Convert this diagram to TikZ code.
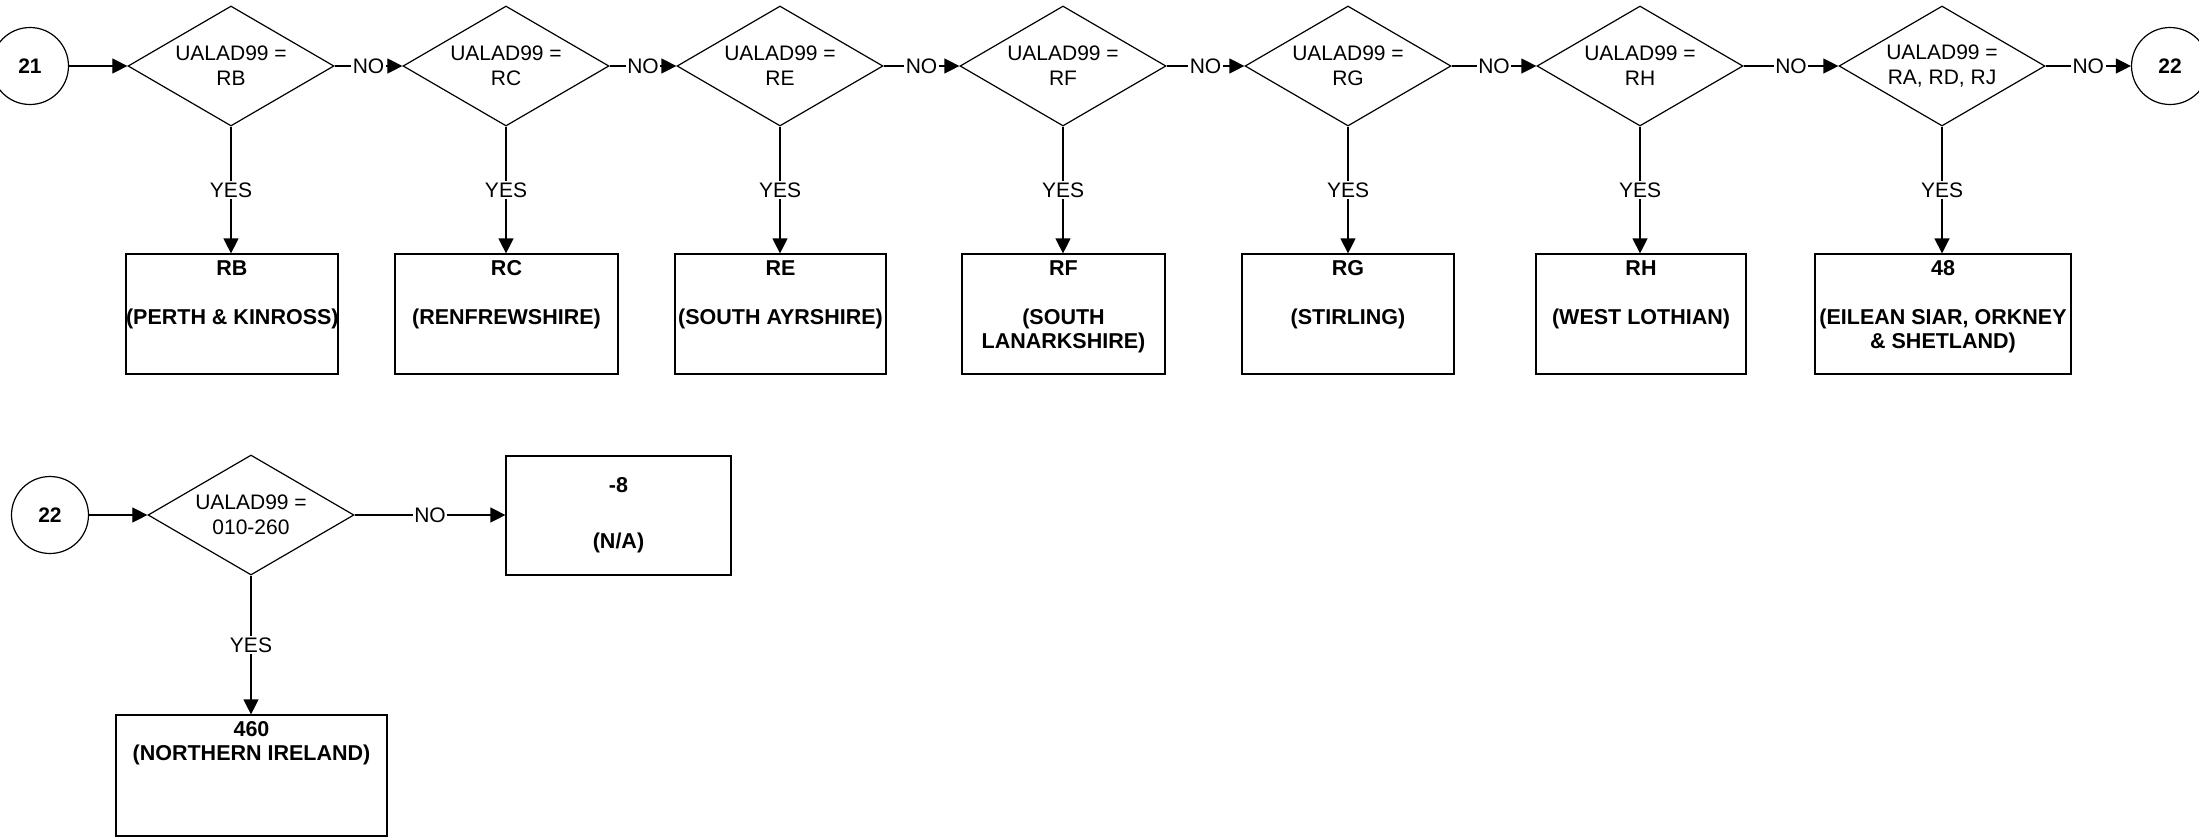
\documentclass[tikz,border=0pt]{standalone}
\usepackage{fontspec}
\setmainfont{Liberation Sans}
\usetikzlibrary{shapes.geometric,arrows.meta}
\newcommand\obox[3]{\parbox[c][#2][t]{#1}{\centering\rule{0pt}{21pt}#3}}
\begin{document}
\begin{tikzpicture}[x=1pt,y=-1pt,line width=1.2pt,
  dec/.style={draw, diamond, aspect=1.72, minimum width=206pt, minimum height=120pt, inner sep=0pt, align=center, font=\fontsize{21}{25}\selectfont},
  conn/.style={draw, circle, minimum size=77pt, inner sep=0pt, font=\fontsize{21}{24}\selectfont\bfseries},
  outbox/.style={draw, rectangle, inner sep=0pt, font=\fontsize{21.5}{24.5}\selectfont\bfseries},
  arr/.style={-{Triangle[length=15pt,width=15pt]}},
  lab/.style={fill=white, inner sep=1.5pt, font=\fontsize{21}{24}\selectfont}
]
\fill[white] (0,0) rectangle (2199,839);
\useasboundingbox (0,0) rectangle (2199,839);

% ---- top row ----
\node[conn] (c21) at (30,66) {21};
\node[dec] (dRB) at (231,66) {UALAD99 =\\RB};
\node[dec] (dRC) at (506,66) {UALAD99 =\\RC};
\node[dec] (dRE) at (780,66) {UALAD99 =\\RE};
\node[dec] (dRF) at (1063,66) {UALAD99 =\\RF};
\node[dec] (dRG) at (1348,66) {UALAD99 =\\RG};
\node[dec] (dRH) at (1640,66) {UALAD99 =\\RH};
\node[dec] (dRA) at (1942,66) {UALAD99 =\\RA, RD, RJ};
\node[conn] (c22a) at (2170,66) {22};

\node[outbox] (bRB) at (232,314) {\obox{212pt}{120pt}{RB\\[24.5pt]\mbox{(PERTH \& KINROSS)}}};
\node[outbox] (bRC) at (506.5,314) {\obox{223pt}{120pt}{RC\\[24.5pt](RENFREWSHIRE)}};
\node[outbox] (bRE) at (780.5,314) {\obox{211pt}{120pt}{RE\\[24.5pt]\mbox{(SOUTH AYRSHIRE)}}};
\node[outbox] (bRF) at (1063.5,314) {\obox{203pt}{120pt}{RF\\[24.5pt](SOUTH\\LANARKSHIRE)}};
\node[outbox] (bRG) at (1348,314) {\obox{212pt}{120pt}{RG\\[24.5pt](STIRLING)}};
\node[outbox] (bRH) at (1641,314) {\obox{210pt}{120pt}{RH\\[24.5pt]\mbox{(WEST LOTHIAN)}}};
\node[outbox] (b48) at (1943,314) {\obox{256pt}{120pt}{48\\[24.5pt]\mbox{(EILEAN SIAR, ORKNEY}\\\mbox{\& SHETLAND)}}};

\draw[arr] (c21) -- (dRB);
\draw[arr] (dRB) -- node[lab]{NO} (dRC);
\draw[arr] (dRC) -- node[lab]{NO} (dRE);
\draw[arr] (dRE) -- node[lab]{NO} (dRF);
\draw[arr] (dRF) -- node[lab]{NO} (dRG);
\draw[arr] (dRG) -- node[lab]{NO} (dRH);
\draw[arr] (dRH) -- node[lab]{NO} (dRA);
\draw[arr] (dRA) -- node[lab]{NO} (c22a);

\draw[arr] (dRB.south) -- node[lab]{YES} (dRB.south |- bRB.north);
\draw[arr] (dRC.south) -- node[lab]{YES} (dRC.south |- bRC.north);
\draw[arr] (dRE.south) -- node[lab]{YES} (dRE.south |- bRE.north);
\draw[arr] (dRF.south) -- node[lab]{YES} (dRF.south |- bRF.north);
\draw[arr] (dRG.south) -- node[lab]{YES} (dRG.south |- bRG.north);
\draw[arr] (dRH.south) -- node[lab]{YES} (dRH.south |- bRH.north);
\draw[arr] (dRA.south) -- node[lab]{YES} (dRA.south |- b48.north);

% ---- bottom row ----
\node[conn] (c22b) at (50,515) {22};
\node[dec] (d2) at (251,515) {UALAD99 =\\010-260};
\node[outbox, minimum width=225pt, minimum height=119pt, align=center, font=\fontsize{21.5}{28}\selectfont\bfseries] (bN) at (618.5,515.5) {-8\\[28pt](N/A)};
\node[outbox] (b460) at (251.5,775.5) {\obox{271pt}{121pt}{460\\\mbox{(NORTHERN IRELAND)}}};

\draw[arr] (c22b) -- (d2);
\draw[arr] (d2.east) -- node[lab]{NO} (d2.east -| bN.west);
\draw[arr] (d2.south) -- node[lab]{YES} (d2.south |- b460.north);
\end{tikzpicture}
\end{document}
